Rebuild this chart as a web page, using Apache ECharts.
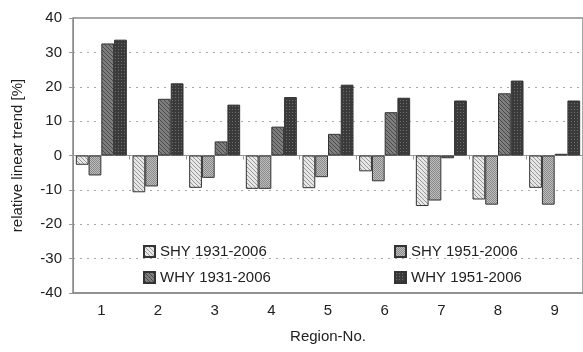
<!DOCTYPE html>
<html>
<head>
<meta charset="utf-8">
<script src="https://cdn.jsdelivr.net/npm/echarts@6/dist/echarts.min.js"></script>
<style>
  html, body { margin: 0; padding: 0; background: #fff; }
  #chart { width: 583px; height: 352px; }
</style>
</head>
<body>
<div id="chart"></div>
<script>
// Relative linear trend per region and period
const regions = ['1', '2', '3', '4', '5', '6', '7', '8', '9'];
const seriesNames = ['SHY 1931-2006', 'SHY 1951-2006', 'WHY 1931-2006', 'WHY 1951-2006'];
const shy1931 = [-2.7, -10.7, -9.4, -9.7, -9.5, -4.6, -14.7, -12.8, -9.4];
const shy1951 = [-5.8, -9.0, -6.5, -9.7, -6.3, -7.5, -13.1, -14.3, -14.3];
const why1931 = [32.6, 16.5, 4.1, 8.4, 6.3, 12.6, -0.8, 18.1, 0.5];
const why1951 = [33.7, 21.0, 14.8, 17.0, 20.6, 16.8, 16.0, 21.8, 16.0];
const yTicks = { min: -40, max: 40, step: 10 };

// Small repeating fill tiles for the hatched bars
function tile(size, draw) {
  const c = document.createElement('canvas');
  c.width = size; c.height = size;
  draw(c.getContext('2d'), size);
  return { image: c, repeat: 'repeat' };
}
function diagonal(bg, fg) {
  return tile(4, (g, s) => {
    g.fillStyle = bg; g.fillRect(0, 0, s, s);
    g.fillStyle = fg;
    for (let i = 0; i < s; i++) g.fillRect(i, i, 1, 1);
  });
}
const fillShy1931 = diagonal('#e6e6e6', '#9a9a9a');
const fillShy1951 = tile(2, (g, s) => {
  g.fillStyle = '#bdbdbd'; g.fillRect(0, 0, s, s);
  g.fillStyle = '#8a8a8a'; g.fillRect(0, 0, 1, 1); g.fillRect(1, 1, 1, 1);
});
const fillWhy1931 = diagonal('#7e7e7e', '#4a4a4a');
const fillWhy1951 = tile(3, (g, s) => {
  g.fillStyle = '#3a3a3a'; g.fillRect(0, 0, s, s);
  g.fillStyle = '#6e6e6e'; g.fillRect(1, 1, 1, 1);
});

const fills = [fillShy1931, fillShy1951, fillWhy1931, fillWhy1951];
const values = [shy1931, shy1951, why1931, why1951];

const font = '"Liberation Sans", Arial, sans-serif';
const txt = '#222';

const chart = echarts.init(document.getElementById('chart'), null, { renderer: 'canvas' });

chart.setOption({
  animation: false,
  backgroundColor: '#fff',
  textStyle: { fontFamily: font, color: txt },
  grid: {
    left: 73, top: 18, bottom: 59, width: 513,
    show: true, borderColor: '#8a8a8a', borderWidth: 1.5, backgroundColor: 'transparent'
  },
  legend: [
    {
      data: [seriesNames[0], seriesNames[2]],
      orient: 'vertical', left: 143, top: 244, padding: 0,
      itemWidth: 11, itemHeight: 11, itemGap: 11,
      icon: 'rect',
      textStyle: { fontFamily: font, fontSize: 15, color: txt }
    },
    {
      data: [seriesNames[1], seriesNames[3]],
      orient: 'vertical', left: 394, top: 244, padding: 0,
      itemWidth: 11, itemHeight: 11, itemGap: 11,
      icon: 'rect',
      textStyle: { fontFamily: font, fontSize: 15, color: txt }
    }
  ],
  xAxis: [
    {
      type: 'category', data: regions, position: 'bottom',
      axisLine: { onZero: false, lineStyle: { color: '#8a8a8a', width: 1.5 } },
      axisTick: { show: false },
      axisLabel: { margin: 10, fontSize: 15, color: txt, fontFamily: font },
      name: 'Region-No.', nameLocation: 'middle', nameGap: 36,
      nameTextStyle: { fontSize: 15, color: txt, fontFamily: font }
    },
    {
      type: 'category', data: regions, position: 'bottom',
      axisLine: { onZero: true, lineStyle: { color: '#999', width: 1 } },
      axisTick: { show: true, length: 4, lineStyle: { color: '#999' } },
      axisLabel: { show: false }
    }
  ],
  yAxis: {
    type: 'value', min: yTicks.min, max: yTicks.max, interval: yTicks.step,
    axisLine: { show: true, lineStyle: { color: '#8a8a8a', width: 1 } },
    axisTick: { show: true, length: 4, lineStyle: { color: '#999' } },
    axisLabel: { margin: 11, fontSize: 15, color: txt, fontFamily: font },
    splitLine: { show: true, lineStyle: { color: '#a8a8a8', type: [2, 5], width: 1 } },
    name: 'relative linear trend [%]', nameLocation: 'middle', nameGap: 48, nameRotate: 90,
    nameTextStyle: { fontSize: 15, color: txt, fontFamily: font }
  },
  series: seriesNames.map((name, i) => ({
    name: name,
    type: 'bar',
    xAxisIndex: 0,
    data: values[i],
    barGap: '0%',
    barCategoryGap: '10%',
    itemStyle: { color: fills[i], borderColor: '#333', borderWidth: 1 }
  }))
});
</script>
</body>
</html>
